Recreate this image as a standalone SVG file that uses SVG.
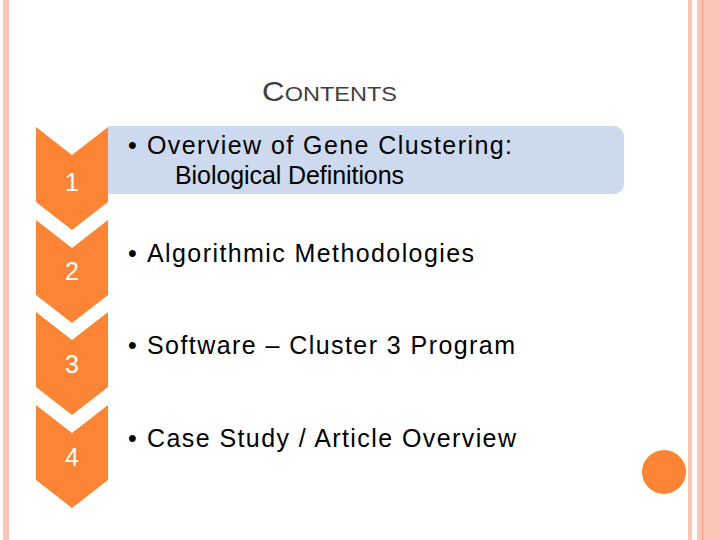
<svg xmlns="http://www.w3.org/2000/svg" width="720" height="540" viewBox="0 0 720 540">
<style>
.chev{fill:#fb8535}
.num{font-family:"Liberation Sans",Arial,sans-serif;font-size:25px;fill:#fff;text-anchor:middle}
.item{font-family:"Liberation Sans",Arial,sans-serif;font-size:25px;fill:#000}
</style>
<defs><path id="ch" d="M36,0 L72,28 L108,0 L108,75 L72,103 L36,75 Z"/></defs>
<rect width="720" height="540" fill="#fff"/>
<rect x="3" y="0" width="6" height="540" fill="#f9c5b5"/>
<rect x="688" y="0" width="4" height="540" fill="#f9c5b5"/>
<rect x="697" y="0" width="23" height="540" fill="#f9c5b5"/>
<rect x="702" y="0" width="1.5" height="540" fill="#f1a78f"/>
<circle cx="664" cy="472" r="22" fill="#fb8535"/>
<text x="262" y="101" font-family="Liberation Sans,Arial,sans-serif" fill="#404040" textLength="135" lengthAdjust="spacingAndGlyphs"><tspan font-size="28">C</tspan><tspan font-size="21">ONTENTS</tspan></text>
<path d="M108,126 H612 Q624,126 624,138 V182 Q624,194 612,194 H108 Z" fill="#cdd9ee"/>
<g id="n1"><use href="#ch" y="127" class="chev"/><text class="num" x="72" y="191">1</text>
<text class="item" x="128" y="154">•</text><text class="item" x="147" y="154" textLength="365">Overview of Gene Clustering:</text>
<text class="item" x="175" y="184" textLength="229">Biological Definitions</text></g>
<g id="n2"><use href="#ch" y="220" class="chev"/><text class="num" x="72" y="280">2</text>
<text class="item" x="128" y="262">•</text><text class="item" x="147" y="262" textLength="327">Algorithmic Methodologies</text></g>
<g id="n3"><use href="#ch" y="312" class="chev"/><text class="num" x="72" y="373">3</text>
<text class="item" x="128" y="354">•</text><text class="item" x="147" y="354" textLength="368">Software – Cluster 3 Program</text></g>
<g id="n4"><use href="#ch" y="405" class="chev"/><text class="num" x="72" y="466">4</text>
<text class="item" x="128" y="447">•</text><text class="item" x="147" y="447" textLength="369">Case Study / Article Overview</text></g>
<g id="connectors"/>
</svg>
